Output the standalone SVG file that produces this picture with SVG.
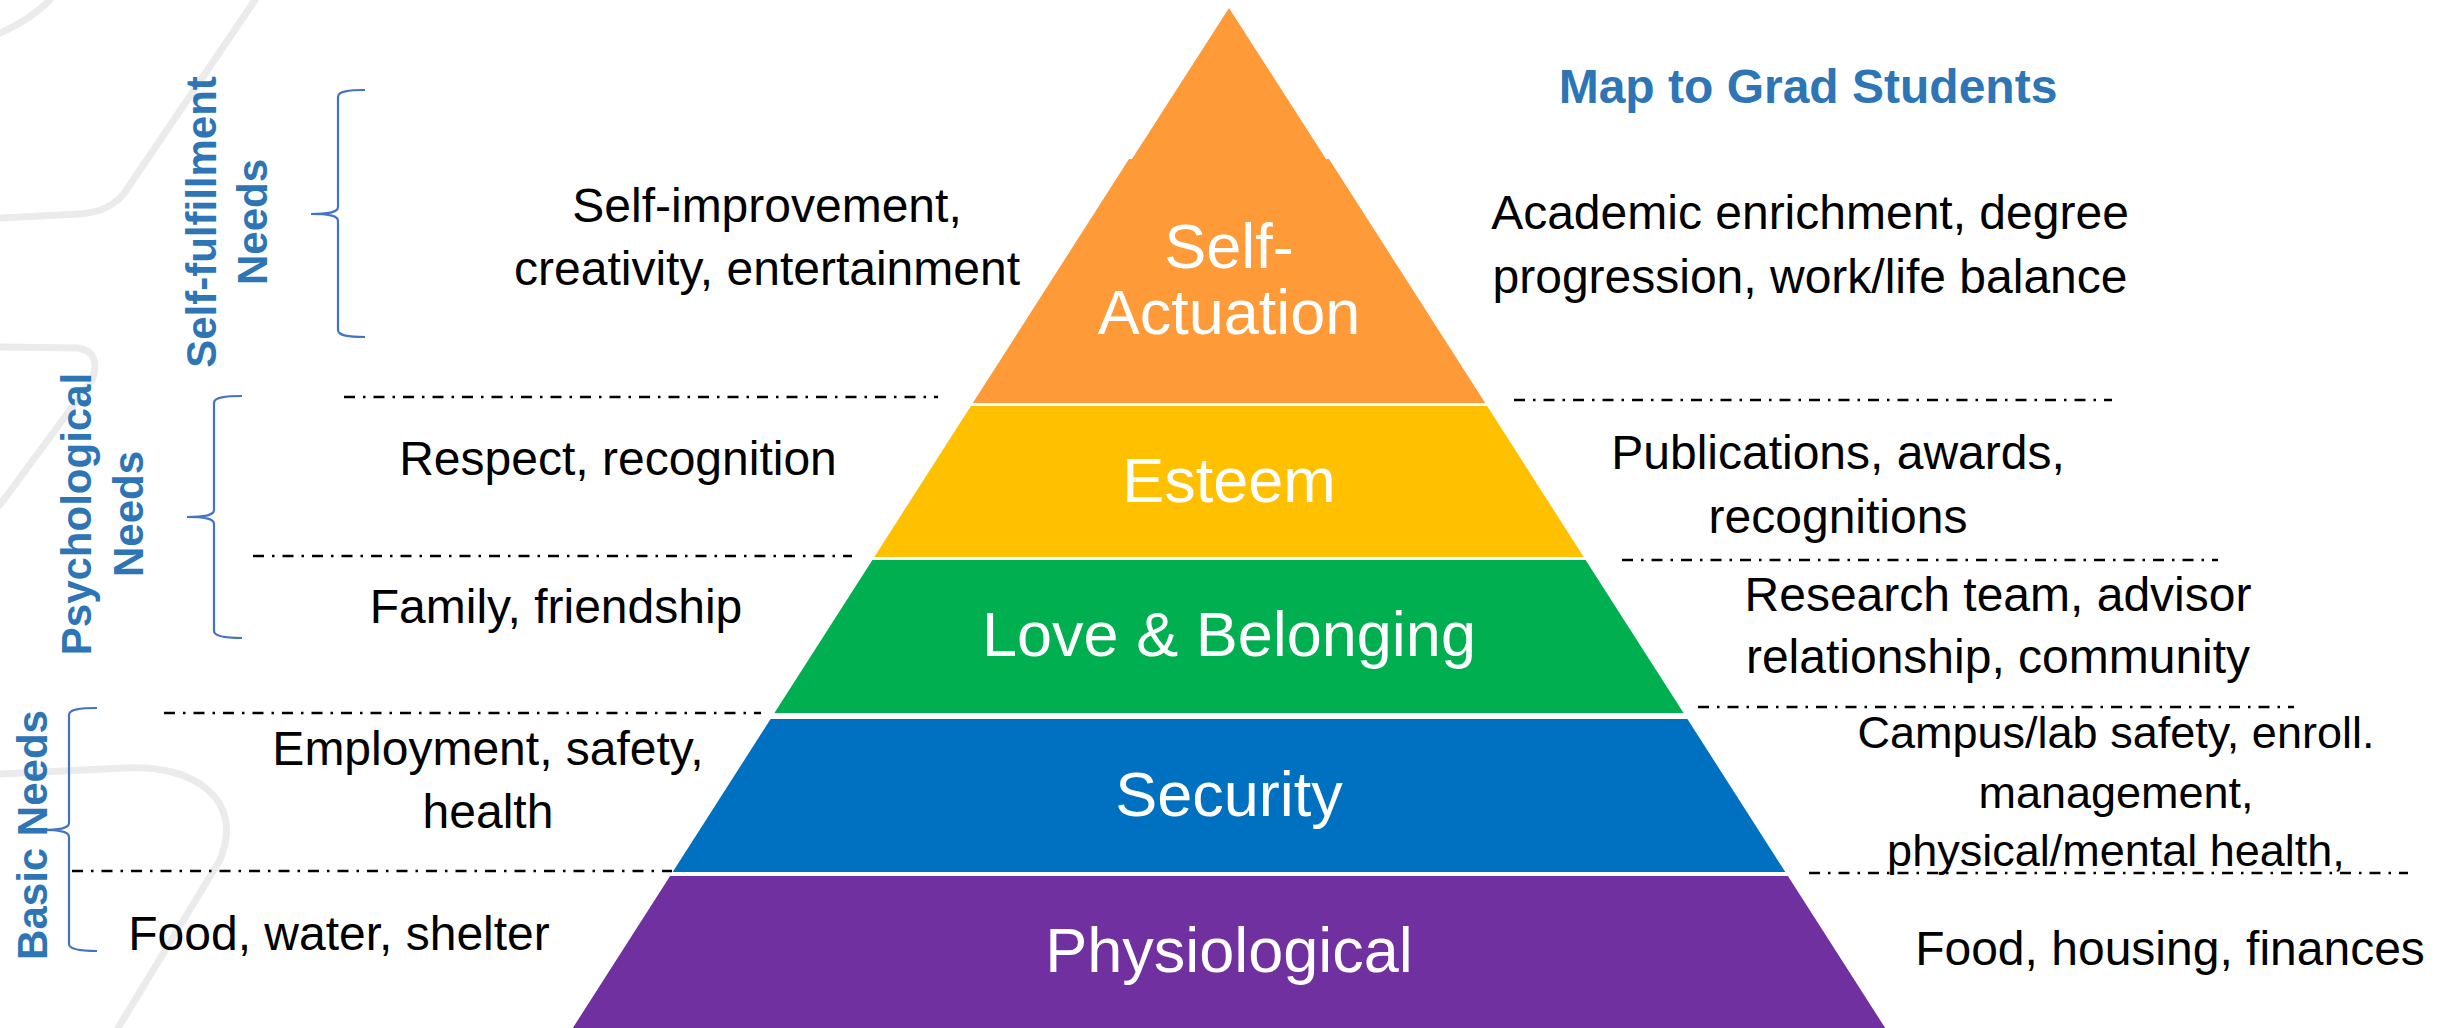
<svg xmlns="http://www.w3.org/2000/svg" width="2450" height="1028" viewBox="0 0 2450 1028">
  <style>
    .txt { font-family: "Liberation Sans", Arial, sans-serif; }
    .layer-label { font-size: 63px; fill: #ffffff; text-anchor: middle; }
    .side { font-size: 48px; fill: #000000; text-anchor: middle; }
    .side-sm { font-size: 45px; fill: #000000; text-anchor: middle; }
    .group-label { font-size: 42px; font-weight: bold; fill: #2E75B6; text-anchor: middle; }
    .title { font-size: 48px; font-weight: bold; fill: #2E75B6; text-anchor: middle; }
    .sep { stroke: #000000; stroke-width: 2.5; stroke-dasharray: 11 8 2.5 8; fill: none; }
    .brace { stroke: #4472C4; stroke-width: 2.2; fill: none; }
    .bg { stroke: #ebebeb; stroke-width: 7; fill: none; stroke-linecap: round; stroke-linejoin: round; }
  </style>
  <rect x="0" y="0" width="2450" height="1028" fill="#ffffff"/>

  <g id="background-decor">
    <path class="bg" d="M0,33 Q30,20 50,0"/>
    <path class="bg" d="M0,218 L80,214 Q110,212 125,192 L255,0"/>
    <path class="bg" d="M0,347 L78,348 Q102,352 92,380 L0,505"/>
    <path class="bg" d="M0,774 L125,768 C195,764 245,800 220,860 L118,1028"/>
  </g>

  <g id="pyramid">
    <g id="layer-self-actuation">
      <polygon fill="#FE9A37" points="1229,8 1326,159 1329,159 1485.2,403 972.8,403 1129,159 1132,159"/>
      <text class="txt layer-label" x="1229" y="268">Self-</text>
      <text class="txt layer-label" x="1229" y="334">Actuation</text>
    </g>
    <g id="layer-esteem">
      <polygon fill="#FFC000" points="970.9,406 1487.1,406 1583.7,557 874.3,557"/>
      <text class="txt layer-label" x="1229" y="502">Esteem</text>
    </g>
    <g id="layer-love">
      <polygon fill="#00B050" points="872.4,560 1585.6,560 1683.6,713 774.4,713"/>
      <text class="txt layer-label" x="1229" y="656">Love &amp; Belonging</text>
    </g>
    <g id="layer-security">
      <polygon fill="#0070C0" points="770.6,719 1687.4,719 1785.3,872 672.7,872"/>
      <text class="txt layer-label" x="1229" y="816">Security</text>
    </g>
    <g id="layer-physiological">
      <polygon fill="#7030A0" points="670.1,876 1787.9,876 1885.2,1028 572.8,1028"/>
      <text class="txt layer-label" x="1229" y="972">Physiological</text>
    </g>
  </g>

  <g id="separators">
    <line class="sep" x1="344" y1="397" x2="938" y2="397"/>
    <line class="sep" x1="253" y1="556" x2="852" y2="556"/>
    <line class="sep" x1="164" y1="713" x2="761" y2="713"/>
    <line class="sep" x1="72" y1="871" x2="672" y2="871"/>
    <line class="sep" x1="1514" y1="400" x2="2112" y2="400"/>
    <line class="sep" x1="1622" y1="560" x2="2218" y2="560"/>
    <line class="sep" x1="1698" y1="707" x2="2294" y2="707"/>
    <line class="sep" x1="1809" y1="873" x2="2408" y2="873"/>
  </g>

  <g id="group-self-fulfillment">
    <path class="brace" d="M365,90 C349,90 338,91 338,97 L338,207 C338,212 330,214 311,214 C330,214 338,216 338,221 L338,330 C338,336 349,337 365,337"/>
    <text class="txt group-label" transform="translate(216,222) rotate(-90)">Self-fulfillment</text>
    <text class="txt group-label" transform="translate(267,222) rotate(-90)">Needs</text>
  </g>
  <g id="group-psychological">
    <path class="brace" d="M242,396 C226,396 214,397 214,403 L214,510 C214,515 206,517 187,517 C206,517 214,519 214,524 L214,631 C214,636 226,638 242,638"/>
    <text class="txt group-label" transform="translate(91,514) rotate(-90)">Psychological</text>
    <text class="txt group-label" transform="translate(143,514) rotate(-90)">Needs</text>
  </g>
  <g id="group-basic">
    <path class="brace" d="M97,708 C81,708 69,709 69,715 L69,823 C69,828 61,830 42,830 C61,830 69,832 69,837 L69,944 C69,949 81,951 97,951"/>
    <text class="txt group-label" transform="translate(47,835) rotate(-90)">Basic Needs</text>
  </g>

  <g id="left-descriptions">
    <g id="left-self-actuation">
      <text class="txt side" x="767" y="222">Self-improvement,</text>
      <text class="txt side" x="767" y="285">creativity, entertainment</text>
    </g>
    <g id="left-esteem"><text class="txt side" x="618" y="475">Respect, recognition</text></g>
    <g id="left-love"><text class="txt side" x="556" y="623">Family, friendship</text></g>
    <g id="left-security">
      <text class="txt side" x="488" y="765">Employment, safety,</text>
      <text class="txt side" x="488" y="828">health</text>
    </g>
    <g id="left-physiological"><text class="txt side" x="339" y="950">Food, water, shelter</text></g>
  </g>

  <g id="right-descriptions">
    <g id="title"><text class="txt title" x="1808" y="103">Map to Grad Students</text></g>
    <g id="right-self-actuation">
      <text class="txt side" x="1810" y="229">Academic enrichment, degree</text>
      <text class="txt side" x="1810" y="293">progression, work/life balance</text>
    </g>
    <g id="right-esteem">
      <text class="txt side" x="1838" y="469">Publications, awards,</text>
      <text class="txt side" x="1838" y="533">recognitions</text>
    </g>
    <g id="right-love">
      <text class="txt side" x="1998" y="611">Research team, advisor</text>
      <text class="txt side" x="1998" y="673">relationship, community</text>
    </g>
    <g id="right-security">
      <text class="txt side-sm" x="2116" y="748">Campus/lab safety, enroll.</text>
      <text class="txt side-sm" x="2116" y="808">management,</text>
      <text class="txt side-sm" x="2116" y="866">physical/mental health,</text>
    </g>
    <g id="right-physiological"><text class="txt side" x="2170" y="965">Food, housing, finances</text></g>
  </g>
</svg>
